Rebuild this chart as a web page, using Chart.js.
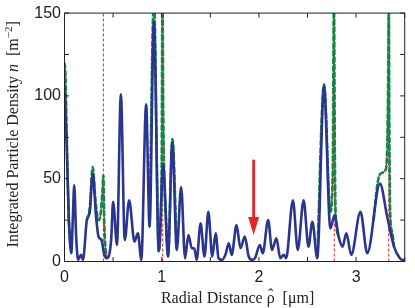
<!DOCTYPE html>
<html>
<head>
<meta charset="utf-8">
<script src="https://cdn.jsdelivr.net/npm/chart.js@4.4.0/dist/chart.umd.min.js"></script>
<style>
html,body{margin:0;padding:0;background:#fff;}
</style>
</head>
<body>
<canvas id="myChart" width="415" height="308"></canvas>
<script>
// blue: total density (solid)
var rhoBlue = [0,0.02,0.045,0.07,0.085,0.10,0.12,0.14,0.17,0.19,0.23,0.26,0.29,0.325,0.35,0.38,0.41,0.435,0.48,0.50,
  0.54,0.58,0.62,0.665,0.72,0.755,0.79,0.84,0.875,0.92,0.97,1.015,1.065,1.11,1.155,1.20,1.24,1.275,1.31,1.335,
  1.36,1.40,1.44,1.48,1.52,1.555,1.585,1.62,1.655,1.69,1.72,1.77,1.81,1.855,1.895,1.93,1.96,2.01,2.04,2.095,
  2.135,2.18,2.22,2.255,2.28,2.35,2.40,2.46,2.51,2.55,2.60,2.67,2.735,2.78,2.82,2.86,2.90,2.95,3.045,3.115,
  3.245,3.32,3.39,3.45,3.5]
var nBlue = [105,75,25,5,25,46,15,1,4,1,25,30,53,27,15,13,4,2,13,36,
  10,101,13,37,12,17,1,95,21,145,6,59,3,72,7,45,2,16,8,8,
  1,23,3,30,3,17,2,1,4,11,4,22,8,15,3,1,2,10,5,25,
  7,14,2,4,2,37,7,37,9,24,2,106,20,28,15,9,17,4,30,5,
  47,27,9,2,0.5]

// green dashed / red: approximation, only where it leaves the blue curve (null = gap)
var rhoGreen = [0,0.01,0.025,0.045,0.07,0.1,
  0.23,0.26,0.29,0.32,0.35,0.37,0.39,0.40,0.41,0.425,0.435,0.5,
  0.875,0.92,0.97,0.99,1.0,1.008,1.016,1.025,1.045,1.065,1.11,1.155,1.2,
  2.60,2.67,2.735,2.76,2.772,2.782,2.79,2.82,2.9,
  3.18,3.22,3.25,3.30,3.32,3.33,3.336,3.342,3.35,3.37,3.39]
var nGreen = [120,112,70,25,5,null,
  25,32,57,36,25,28,42,52,22,6,2,null,
  21,158,6,25,60,160,90,55,25,3,74,7,null,
  2,107,30,55,160,60,28,15,null,
  25,47,53,55,68,110,160,80,30,18,9]

// singular radii (red dashed markers)
var rhoMarks = [0.40, 1.01, 2.776, 3.336]

// red arrow: radius, top and tip of the arrow
var arrowRho = 1.946
var arrowTop = 61.5
var arrowTip = 16

var xTicks = [0, 1, 2, 3]
var yTicks = [0, 50, 100, 150]

var BLUE = '#2a3590', GREEN = '#0d8a47', RED = '#e5232b'
var SANS = '"Liberation Sans", Arial, sans-serif'
var SERIF = '"Liberation Serif", "Times New Roman", serif'

function pts(xs, ys){
  return xs.map(function(v, i){ return {x: v, y: ys[i]} })
}

var datasets = [
  {data: pts(rhoBlue, nBlue), borderColor: BLUE, borderWidth: 2.6, cubicInterpolationMode: 'monotone', clip: 0},
  {data: pts(rhoGreen, nGreen), borderColor: GREEN, borderWidth: 2.6, borderDash: [6, 1.5], cubicInterpolationMode: 'monotone', clip: 0},
  {data: pts(rhoGreen, nGreen), borderColor: RED, borderWidth: 1.2, cubicInterpolationMode: 'monotone', clip: 0}
]
rhoMarks.forEach(function(r){
  datasets.push({data: [{x: r, y: 0}, {x: r, y: 150}], borderColor: RED, borderWidth: 1, borderDash: [3, 2], clip: 0})
})

function drawRuns(ctx, runs, cx, cy){
  var total = 0
  runs.forEach(function(r){ ctx.font = r.f; total += ctx.measureText(r.t).width })
  var x = cx - total / 2
  runs.forEach(function(r){
    ctx.font = r.f
    ctx.fillText(r.t, x, cy + (r.dy || 0))
    var w = ctx.measureText(r.t).width
    if (r.hat){
      ctx.textAlign = 'center'
      ctx.fillText('\u02C6', x + w / 2, cy - 3)
      ctx.textAlign = 'left'
    }
    x += w
  })
}

var frame = {
  id: 'frame',
  afterDatasetsDraw: function(chart){
    var ctx = chart.ctx, a = chart.chartArea, sx = chart.scales.x, sy = chart.scales.y
    ctx.save()
    // arrow
    var ax = sx.getPixelForValue(arrowRho)
    var top = sy.getPixelForValue(arrowTop), tip = sy.getPixelForValue(arrowTip)
    ctx.strokeStyle = RED; ctx.fillStyle = RED; ctx.lineWidth = 2.8
    ctx.beginPath(); ctx.moveTo(ax, top); ctx.lineTo(ax, tip - 14); ctx.stroke()
    ctx.beginPath(); ctx.moveTo(ax - 5.5, tip - 18); ctx.lineTo(ax + 5.5, tip - 18); ctx.lineTo(ax, tip); ctx.closePath(); ctx.fill()

    // box and inward ticks
    ctx.strokeStyle = '#222'; ctx.lineWidth = 1
    ctx.strokeRect(a.left, a.top, a.right - a.left, a.bottom - a.top)
    ctx.beginPath()
    sx.ticks.forEach(function(t){
      var px = sx.getPixelForValue(t.value)
      ctx.moveTo(px, a.bottom); ctx.lineTo(px, a.bottom - 4.5)
      ctx.moveTo(px, a.top); ctx.lineTo(px, a.top + 4.5)
    })
    sy.ticks.forEach(function(t){
      var py = sy.getPixelForValue(t.value)
      ctx.moveTo(a.left, py); ctx.lineTo(a.left + 4.5, py)
      ctx.moveTo(a.right, py); ctx.lineTo(a.right - 4.5, py)
    })
    ctx.stroke()
    ctx.restore()
  },
  afterDraw: function(chart){
    var ctx = chart.ctx, a = chart.chartArea
    ctx.save()
    ctx.fillStyle = '#222'; ctx.textAlign = 'left'; ctx.textBaseline = 'alphabetic'
    drawRuns(ctx, [
      {t: 'Radial Distance ', f: '16px ' + SERIF},
      {t: '\u03C1', f: '16px ' + SERIF, hat: true},
      {t: '  [\u03BCm]', f: '16px ' + SERIF}
    ], (a.left + a.right) / 2 + 3, 302.5)
    ctx.translate(18, (a.top + a.bottom) / 2 - 3)
    ctx.rotate(-Math.PI / 2)
    drawRuns(ctx, [
      {t: 'Integrated Particle Density ', f: '16px ' + SERIF},
      {t: 'n', f: 'italic 16px ' + SERIF},
      {t: '  [m', f: '16px ' + SERIF},
      {t: '\u22122', f: '11px ' + SERIF, dy: -6},
      {t: ']', f: '16px ' + SERIF}
    ], 0, 0)
    ctx.restore()
  }
}

var ctx = document.getElementById('myChart').getContext('2d')
window.chart = new Chart(ctx, {
  type: 'line',
  data: {datasets: datasets},
  options: {
    responsive: false,
    animation: false,
    layout: {padding: {top: 10.5, right: 10.3, left: 0, bottom: 0}},
    elements: {point: {radius: 0}},
    plugins: {legend: {display: false}, tooltip: {enabled: false}},
    scales: {
      x: {
        type: 'linear', min: 0, max: 3.5,
        grid: {display: false, drawTicks: false}, border: {display: false},
        ticks: {
          stepSize: 0.5, autoSkip: false, maxRotation: 0, padding: 6, color: '#222',
          font: {family: SANS, size: 16},
          callback: function(v){ return xTicks.indexOf(v) >= 0 ? String(v) : '' }
        },
        afterFit: function(s){ s.height = 46.5 }
      },
      y: {
        min: 0, max: 150,
        grid: {display: false, drawTicks: false}, border: {display: false},
        ticks: {
          stepSize: 25, autoSkip: false, padding: 3.5, color: '#222',
          font: {family: SANS, size: 16},
          callback: function(v){ return yTicks.indexOf(v) >= 0 ? String(v) : '' }
        },
        afterFit: function(s){ s.width = 64.5 }
      }
    }
  },
  plugins: [frame]
})
</script>
</body>
</html>
